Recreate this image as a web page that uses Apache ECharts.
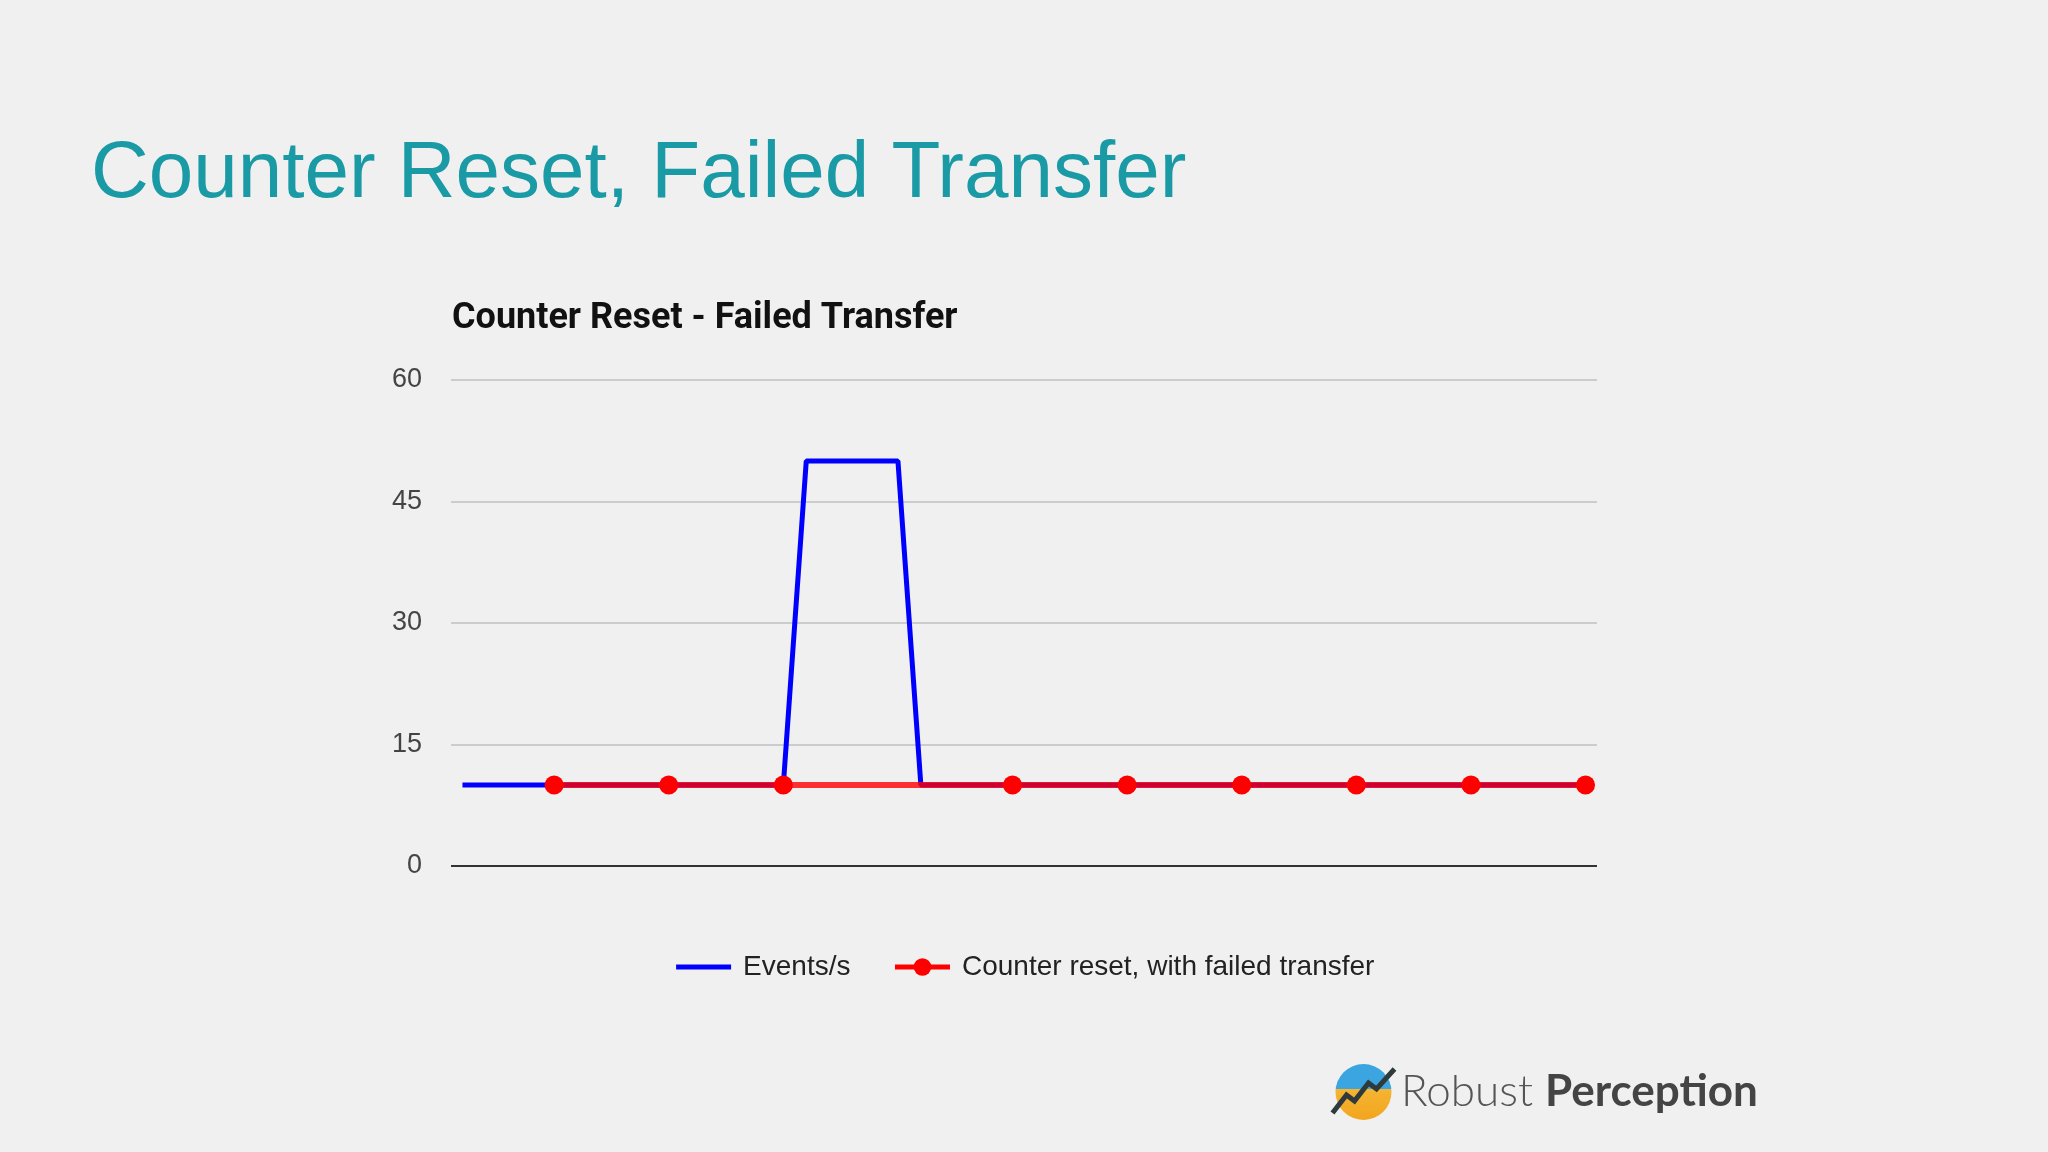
<!DOCTYPE html>
<html>
<head>
<meta charset="utf-8">
<script src="https://cdn.jsdelivr.net/npm/echarts@6/dist/echarts.min.js"></script>
<style>
html,body{margin:0;padding:0;background:#f0f0f0;}
#main{width:2048px;height:1152px;}
</style>
</head>
<body>
<div id="main"></div>
<script>
// ---- data ----
const slideTitle = 'Counter Reset, Failed Transfer';
const chartTitle = 'Counter Reset - Failed Transfer';
const seriesNames = ['Events/s', 'Counter reset, with failed transfer'];
// time (s) and value for the actual event rate
const eventsX = [2, 30, 32, 40, 42, 100];
const eventsY = [10, 10, 50, 50, 10, 10];
// scraped counter rate (scrape at 40 failed)
const resetX = [10, 20, 30, 50, 60, 70, 80, 90, 100];
const resetY = [10, 10, 10, 10, 10, 10, 10, 10, 10];
const yTicks = [0, 15, 30, 45, 60];

const chart = echarts.init(document.getElementById('main'));
const font = '"Liberation Sans", Arial, sans-serif';

chart.setOption({
  backgroundColor: '#f0f0f0',
  animation: false,
  title: {
    text: chartTitle,
    left: 447,
    top: 296,
    textStyle: { fontFamily: 'Roboto, ' + font, fontWeight: 'bold', fontSize: 36, color: '#111' }
  },
  legend: {
    data: [
      { name: seriesNames[0], itemStyle: { opacity: 0 }, lineStyle: { width: 5, color: '#0000ff' } },
      { name: seriesNames[1], lineStyle: { width: 5, color: '#ff0000', opacity: 1 } }
    ],
    left: 'center',
    top: 948,
    itemWidth: 55,
    itemHeight: 22,
    itemGap: 42,
    textStyle: { fontFamily: font, fontSize: 28, color: '#222', padding: [0, 0, 0, 7] }
  },
  grid: { left: 451, right: 451, top: 380, bottom: 286 },
  xAxis: {
    type: 'value',
    min: 1,
    max: 101,
    axisLine: { show: false },
    axisTick: { show: false },
    axisLabel: { show: false },
    splitLine: { show: false }
  },
  yAxis: {
    type: 'value',
    min: yTicks[0],
    max: yTicks[yTicks.length - 1],
    interval: yTicks[1] - yTicks[0],
    axisLine: { show: false },
    axisTick: { show: false },
    axisLabel: { fontFamily: font, fontSize: 27, color: '#444', margin: 29 },
    splitLine: { lineStyle: { color: '#cccccc', width: 2 } }
  },
  series: [
    {
      name: seriesNames[0],
      type: 'line',
      data: eventsX.map((x, i) => [x, eventsY[i]]),
      symbol: 'none',
      color: '#0000ff',
      lineStyle: { color: '#0000ff', width: 5 },
      z: 2
    },
    {
      name: seriesNames[1],
      type: 'line',
      data: resetX.map((x, i) => [x, resetY[i]]),
      symbol: 'circle',
      symbolSize: 19,
      color: '#ff0000',
      itemStyle: { color: '#ff0000' },
      lineStyle: { color: '#ff0000', width: 6, opacity: 0.8 },
      z: 3,
      markLine: {
        silent: true,
        symbol: 'none',
        label: { show: false },
        lineStyle: { color: '#333', width: 2, type: 'solid', opacity: 1 },
        data: [{ yAxis: 0 }]
      }
    }
  ],
  graphic: [
    {
      type: 'text',
      left: 91,
      top: 135,
      style: { text: slideTitle, fontFamily: font, fontSize: 80, fill: '#1a9aa5' }
    },
    {
      type: 'group',
      left: 1330,
      top: 1064,
      children: [
        {
          type: 'circle',
          shape: { cx: 31, cy: 31, r: 28 },
          style: {
            fill: new echarts.graphic.LinearGradient(0, 0, 0, 1, [
              { offset: 0, color: '#3aa5e0' },
              { offset: 0.45, color: '#3aa5e0' },
              { offset: 0.45, color: '#f5b432' },
              { offset: 1, color: '#f2a51e' }
            ])
          }
        },
        {
          type: 'polyline',
          shape: { points: [[0, 52], [14, 34], [22, 40], [36, 22], [44, 28], [62, 8]] },
          style: { stroke: '#2f3a3c', lineWidth: 5, fill: null }
        }
      ]
    },
    {
      type: 'text',
      left: 1401,
      top: 1070,
      style: {
        text: '{a|Robust }{b|Perception}',
        rich: {
          a: { fontFamily: 'Lato, "Open Sans", sans-serif', fontSize: 44, fill: '#555', fontWeight: 300 },
          b: { fontFamily: 'Lato, "Open Sans", sans-serif', fontSize: 44, fill: '#444', fontWeight: 'bold' }
        }
      }
    }
  ]
});
</script>
</body>
</html>
